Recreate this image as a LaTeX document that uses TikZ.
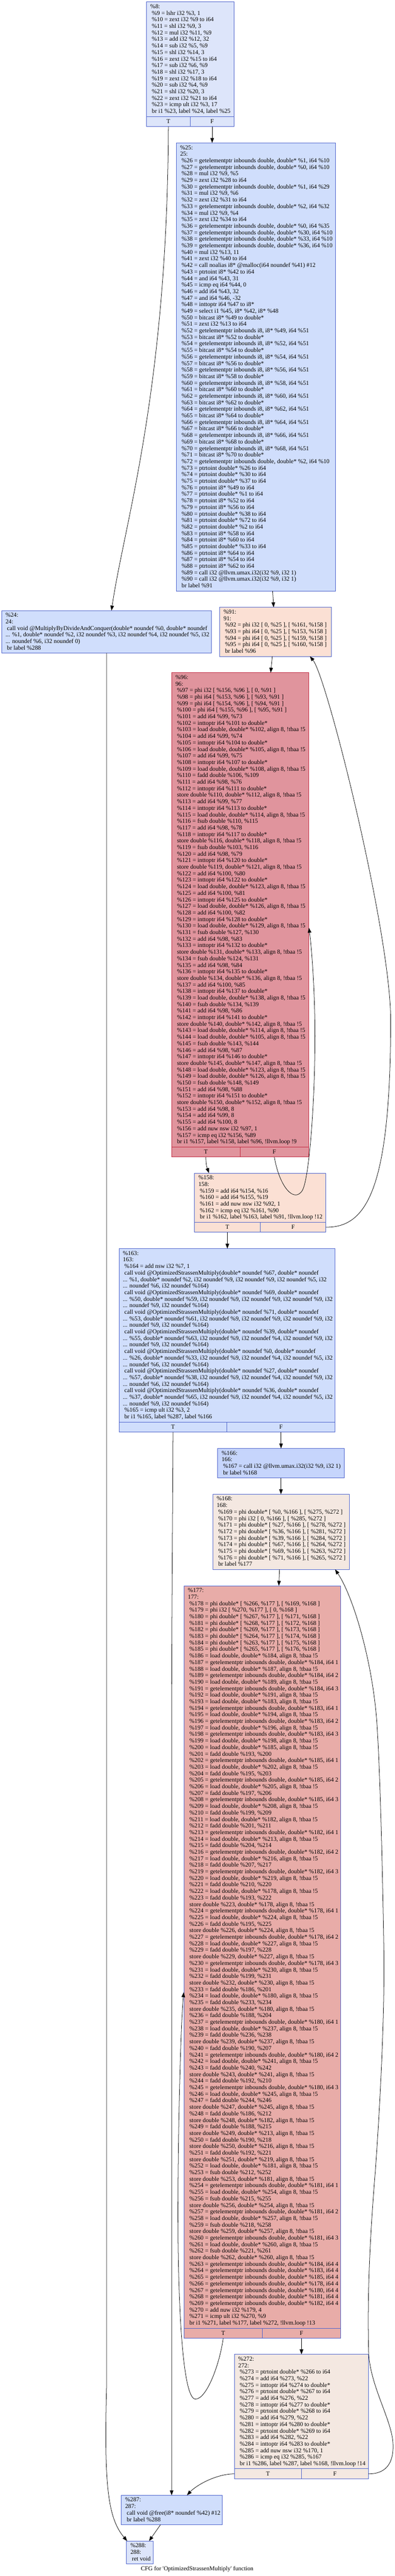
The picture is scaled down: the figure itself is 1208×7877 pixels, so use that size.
\documentclass[tikz,border=0pt]{standalone}
\usepackage{fontspec}
\newfontfamily\gv{Liberation Serif}
\usetikzlibrary{calc,arrows.meta}
\definecolor{bblue}{HTML}{4D62CC}
\definecolor{bred}{HTML}{C0283F}
\definecolor{fA}{HTML}{DDE5FA}
\definecolor{fB}{HTML}{D0DEFC}
\definecolor{fC}{HTML}{C6D5FC}
\definecolor{fP}{HTML}{FBE0D4}
\definecolor{fL}{HTML}{F4E8E1}
\definecolor{fR}{HTML}{E0949D}
\definecolor{fS}{HTML}{E8ACA8}
\newcommand\gvs{\hspace*{0.25em}}
\tikzset{
  cfgbox/.style={draw=bblue, line width=0.6pt, rectangle, inner sep=0pt, outer sep=0pt, anchor=north west, font=\gv\fontsize{9.25}{10}\selectfont},
  txt/.style={anchor=north west, inner sep=0pt, outer sep=0pt, font=\gv\fontsize{9.25}{10}\selectfont},
  edge/.style={draw=black, line width=0.6pt, -{Triangle[length=7.5pt,width=5.5pt]}}
}
\newcommand\blk[7]{%
  \node[cfgbox,#6,minimum width=#4*0.5pt,minimum height=#5*0.5pt] (#1) at (#2,#3) {};
  \node[txt] (#1t) at ($(#1.north west)+(12,6)$) {\begin{tabular}{@{}l@{}}#7\end{tabular}};}
\newcommand\tfrow[3]{%
  \node[cfgbox,#3,minimum width=#2*0.5pt,minimum height=31*0.5pt] (#1T) at (#1.south west) {T};
  \node[cfgbox,#3,minimum width=#2*0.5pt,minimum height=31*0.5pt] (#1F) at (#1T.north east) {F};}
\begin{document}
\begin{tikzpicture}[x=0.5pt,y=-0.5pt]
\useasboundingbox (0,0) rectangle (1208,7877);
\fill[white] (0,0) rectangle (1208,7877);

% ---------- %8
\blk{n8}{448}{6}{268}{350}{fill=fA}{\%8:\\
\gvs\%9 = lshr i32 \%3, 1\\
\gvs\%10 = zext i32 \%9 to i64\\
\gvs\%11 = shl i32 \%9, 3\\
\gvs\%12 = mul i32 \%11, \%9\\
\gvs\%13 = add i32 \%12, 32\\
\gvs\%14 = sub i32 \%5, \%9\\
\gvs\%15 = shl i32 \%14, 3\\
\gvs\%16 = zext i32 \%15 to i64\\
\gvs\%17 = sub i32 \%6, \%9\\
\gvs\%18 = shl i32 \%17, 3\\
\gvs\%19 = zext i32 \%18 to i64\\
\gvs\%20 = sub i32 \%4, \%9\\
\gvs\%21 = shl i32 \%20, 3\\
\gvs\%22 = zext i32 \%21 to i64\\
\gvs\%23 = icmp ult i32 \%3, 17\\
\gvs br i1 \%23, label \%24, label \%25}
\tfrow{n8}{134}{fill=fA}

% ---------- %25
\blk{n25}{539}{437}{487}{1370}{fill=fB}{\%25:\\
25:\\
\gvs\%26 = getelementptr inbounds double, double* \%1, i64 \%10\\
\gvs\%27 = getelementptr inbounds double, double* \%0, i64 \%10\\
\gvs\%28 = mul i32 \%9, \%5\\
\gvs\%29 = zext i32 \%28 to i64\\
\gvs\%30 = getelementptr inbounds double, double* \%1, i64 \%29\\
\gvs\%31 = mul i32 \%9, \%6\\
\gvs\%32 = zext i32 \%31 to i64\\
\gvs\%33 = getelementptr inbounds double, double* \%2, i64 \%32\\
\gvs\%34 = mul i32 \%9, \%4\\
\gvs\%35 = zext i32 \%34 to i64\\
\gvs\%36 = getelementptr inbounds double, double* \%0, i64 \%35\\
\gvs\%37 = getelementptr inbounds double, double* \%30, i64 \%10\\
\gvs\%38 = getelementptr inbounds double, double* \%33, i64 \%10\\
\gvs\%39 = getelementptr inbounds double, double* \%36, i64 \%10\\
\gvs\%40 = mul i32 \%13, 11\\
\gvs\%41 = zext i32 \%40 to i64\\
\gvs\%42 = call noalias i8* @malloc(i64 noundef \%41) \#12\\
\gvs\%43 = ptrtoint i8* \%42 to i64\\
\gvs\%44 = and i64 \%43, 31\\
\gvs\%45 = icmp eq i64 \%44, 0\\
\gvs\%46 = add i64 \%43, 32\\
\gvs\%47 = and i64 \%46, -32\\
\gvs\%48 = inttoptr i64 \%47 to i8*\\
\gvs\%49 = select i1 \%45, i8* \%42, i8* \%48\\
\gvs\%50 = bitcast i8* \%49 to double*\\
\gvs\%51 = zext i32 \%13 to i64\\
\gvs\%52 = getelementptr inbounds i8, i8* \%49, i64 \%51\\
\gvs\%53 = bitcast i8* \%52 to double*\\
\gvs\%54 = getelementptr inbounds i8, i8* \%52, i64 \%51\\
\gvs\%55 = bitcast i8* \%54 to double*\\
\gvs\%56 = getelementptr inbounds i8, i8* \%54, i64 \%51\\
\gvs\%57 = bitcast i8* \%56 to double*\\
\gvs\%58 = getelementptr inbounds i8, i8* \%56, i64 \%51\\
\gvs\%59 = bitcast i8* \%58 to double*\\
\gvs\%60 = getelementptr inbounds i8, i8* \%58, i64 \%51\\
\gvs\%61 = bitcast i8* \%60 to double*\\
\gvs\%62 = getelementptr inbounds i8, i8* \%60, i64 \%51\\
\gvs\%63 = bitcast i8* \%62 to double*\\
\gvs\%64 = getelementptr inbounds i8, i8* \%62, i64 \%51\\
\gvs\%65 = bitcast i8* \%64 to double*\\
\gvs\%66 = getelementptr inbounds i8, i8* \%64, i64 \%51\\
\gvs\%67 = bitcast i8* \%66 to double*\\
\gvs\%68 = getelementptr inbounds i8, i8* \%66, i64 \%51\\
\gvs\%69 = bitcast i8* \%68 to double*\\
\gvs\%70 = getelementptr inbounds i8, i8* \%68, i64 \%51\\
\gvs\%71 = bitcast i8* \%70 to double*\\
\gvs\%72 = getelementptr inbounds double, double* \%2, i64 \%10\\
\gvs\%73 = ptrtoint double* \%26 to i64\\
\gvs\%74 = ptrtoint double* \%30 to i64\\
\gvs\%75 = ptrtoint double* \%37 to i64\\
\gvs\%76 = ptrtoint i8* \%49 to i64\\
\gvs\%77 = ptrtoint double* \%1 to i64\\
\gvs\%78 = ptrtoint i8* \%52 to i64\\
\gvs\%79 = ptrtoint i8* \%56 to i64\\
\gvs\%80 = ptrtoint double* \%38 to i64\\
\gvs\%81 = ptrtoint double* \%72 to i64\\
\gvs\%82 = ptrtoint double* \%2 to i64\\
\gvs\%83 = ptrtoint i8* \%58 to i64\\
\gvs\%84 = ptrtoint i8* \%60 to i64\\
\gvs\%85 = ptrtoint double* \%33 to i64\\
\gvs\%86 = ptrtoint i8* \%64 to i64\\
\gvs\%87 = ptrtoint i8* \%54 to i64\\
\gvs\%88 = ptrtoint i8* \%62 to i64\\
\gvs\%89 = call i32 @llvm.umax.i32(i32 \%9, i32 1)\\
\gvs\%90 = call i32 @llvm.umax.i32(i32 \%9, i32 1)\\
\gvs br label \%91}

% ---------- %24
\blk{n24}{5}{1867}{642}{130}{fill=fB}{\%24:\\
24:\\
\gvs call void @MultiplyByDivideAndConquer(double* noundef \%0, double* noundef\\
... \%1, double* noundef \%2, i32 noundef \%3, i32 noundef \%4, i32 noundef \%5, i32\\
... noundef \%6, i32 noundef 0)\\
\gvs br label \%288}

% ---------- %91
\blk{n91}{672}{1857}{341}{150}{fill=fP}{\%91:\\
91:\\
\gvs\%92 = phi i32 [ 0, \%25 ], [ \%161, \%158 ]\\
\gvs\%93 = phi i64 [ 0, \%25 ], [ \%153, \%158 ]\\
\gvs\%94 = phi i64 [ 0, \%25 ], [ \%159, \%158 ]\\
\gvs\%95 = phi i64 [ 0, \%25 ], [ \%160, \%158 ]\\
\gvs br label \%96}

% ---------- %96
\blk{n96}{525}{2057}{419}{1450}{fill=fR,draw=bred}{\%96:\\
96:\\
\gvs\%97 = phi i32 [ \%156, \%96 ], [ 0, \%91 ]\\
\gvs\%98 = phi i64 [ \%153, \%96 ], [ \%93, \%91 ]\\
\gvs\%99 = phi i64 [ \%154, \%96 ], [ \%94, \%91 ]\\
\gvs\%100 = phi i64 [ \%155, \%96 ], [ \%95, \%91 ]\\
\gvs\%101 = add i64 \%99, \%73\\
\gvs\%102 = inttoptr i64 \%101 to double*\\
\gvs\%103 = load double, double* \%102, align 8, !tbaa !5\\
\gvs\%104 = add i64 \%99, \%74\\
\gvs\%105 = inttoptr i64 \%104 to double*\\
\gvs\%106 = load double, double* \%105, align 8, !tbaa !5\\
\gvs\%107 = add i64 \%99, \%75\\
\gvs\%108 = inttoptr i64 \%107 to double*\\
\gvs\%109 = load double, double* \%108, align 8, !tbaa !5\\
\gvs\%110 = fadd double \%106, \%109\\
\gvs\%111 = add i64 \%98, \%76\\
\gvs\%112 = inttoptr i64 \%111 to double*\\
\gvs store double \%110, double* \%112, align 8, !tbaa !5\\
\gvs\%113 = add i64 \%99, \%77\\
\gvs\%114 = inttoptr i64 \%113 to double*\\
\gvs\%115 = load double, double* \%114, align 8, !tbaa !5\\
\gvs\%116 = fsub double \%110, \%115\\
\gvs\%117 = add i64 \%98, \%78\\
\gvs\%118 = inttoptr i64 \%117 to double*\\
\gvs store double \%116, double* \%118, align 8, !tbaa !5\\
\gvs\%119 = fsub double \%103, \%116\\
\gvs\%120 = add i64 \%98, \%79\\
\gvs\%121 = inttoptr i64 \%120 to double*\\
\gvs store double \%119, double* \%121, align 8, !tbaa !5\\
\gvs\%122 = add i64 \%100, \%80\\
\gvs\%123 = inttoptr i64 \%122 to double*\\
\gvs\%124 = load double, double* \%123, align 8, !tbaa !5\\
\gvs\%125 = add i64 \%100, \%81\\
\gvs\%126 = inttoptr i64 \%125 to double*\\
\gvs\%127 = load double, double* \%126, align 8, !tbaa !5\\
\gvs\%128 = add i64 \%100, \%82\\
\gvs\%129 = inttoptr i64 \%128 to double*\\
\gvs\%130 = load double, double* \%129, align 8, !tbaa !5\\
\gvs\%131 = fsub double \%127, \%130\\
\gvs\%132 = add i64 \%98, \%83\\
\gvs\%133 = inttoptr i64 \%132 to double*\\
\gvs store double \%131, double* \%133, align 8, !tbaa !5\\
\gvs\%134 = fsub double \%124, \%131\\
\gvs\%135 = add i64 \%98, \%84\\
\gvs\%136 = inttoptr i64 \%135 to double*\\
\gvs store double \%134, double* \%136, align 8, !tbaa !5\\
\gvs\%137 = add i64 \%100, \%85\\
\gvs\%138 = inttoptr i64 \%137 to double*\\
\gvs\%139 = load double, double* \%138, align 8, !tbaa !5\\
\gvs\%140 = fsub double \%134, \%139\\
\gvs\%141 = add i64 \%98, \%86\\
\gvs\%142 = inttoptr i64 \%141 to double*\\
\gvs store double \%140, double* \%142, align 8, !tbaa !5\\
\gvs\%143 = load double, double* \%114, align 8, !tbaa !5\\
\gvs\%144 = load double, double* \%105, align 8, !tbaa !5\\
\gvs\%145 = fsub double \%143, \%144\\
\gvs\%146 = add i64 \%98, \%87\\
\gvs\%147 = inttoptr i64 \%146 to double*\\
\gvs store double \%145, double* \%147, align 8, !tbaa !5\\
\gvs\%148 = load double, double* \%123, align 8, !tbaa !5\\
\gvs\%149 = load double, double* \%126, align 8, !tbaa !5\\
\gvs\%150 = fsub double \%148, \%149\\
\gvs\%151 = add i64 \%98, \%88\\
\gvs\%152 = inttoptr i64 \%151 to double*\\
\gvs store double \%150, double* \%152, align 8, !tbaa !5\\
\gvs\%153 = add i64 \%98, 8\\
\gvs\%154 = add i64 \%99, 8\\
\gvs\%155 = add i64 \%100, 8\\
\gvs\%156 = add nuw nsw i32 \%97, 1\\
\gvs\%157 = icmp eq i32 \%156, \%89\\
\gvs br i1 \%157, label \%158, label \%96, !llvm.loop !9}
\tfrow{n96}{209.5}{fill=fR,draw=bred}

% ---------- %158
\blk{n158}{595}{3587}{402}{150}{fill=fP}{\%158:\\
158:\\
\gvs\%159 = add i64 \%154, \%16\\
\gvs\%160 = add i64 \%155, \%19\\
\gvs\%161 = add nuw nsw i32 \%92, 1\\
\gvs\%162 = icmp eq i32 \%161, \%90\\
\gvs br i1 \%162, label \%163, label \%91, !llvm.loop !12}
\tfrow{n158}{201}{fill=fP}

% ---------- %163
\blk{n163}{364}{3818}{661}{530}{fill=fB}{\%163:\\
163:\\
\gvs\%164 = add nsw i32 \%7, 1\\
\gvs call void @OptimizedStrassenMultiply(double* noundef \%67, double* noundef\\
... \%1, double* noundef \%2, i32 noundef \%9, i32 noundef \%9, i32 noundef \%5, i32\\
... noundef \%6, i32 noundef \%164)\\
\gvs call void @OptimizedStrassenMultiply(double* noundef \%69, double* noundef\\
... \%50, double* noundef \%59, i32 noundef \%9, i32 noundef \%9, i32 noundef \%9, i32\\
... noundef \%9, i32 noundef \%164)\\
\gvs call void @OptimizedStrassenMultiply(double* noundef \%71, double* noundef\\
... \%53, double* noundef \%61, i32 noundef \%9, i32 noundef \%9, i32 noundef \%9, i32\\
... noundef \%9, i32 noundef \%164)\\
\gvs call void @OptimizedStrassenMultiply(double* noundef \%39, double* noundef\\
... \%55, double* noundef \%63, i32 noundef \%9, i32 noundef \%4, i32 noundef \%9, i32\\
... noundef \%9, i32 noundef \%164)\\
\gvs call void @OptimizedStrassenMultiply(double* noundef \%0, double* noundef\\
... \%26, double* noundef \%33, i32 noundef \%9, i32 noundef \%4, i32 noundef \%5, i32\\
... noundef \%6, i32 noundef \%164)\\
\gvs call void @OptimizedStrassenMultiply(double* noundef \%27, double* noundef\\
... \%57, double* noundef \%38, i32 noundef \%9, i32 noundef \%4, i32 noundef \%9, i32\\
... noundef \%6, i32 noundef \%164)\\
\gvs call void @OptimizedStrassenMultiply(double* noundef \%36, double* noundef\\
... \%37, double* noundef \%65, i32 noundef \%9, i32 noundef \%4, i32 noundef \%5, i32\\
... noundef \%9, i32 noundef \%164)\\
\gvs\%165 = icmp ult i32 \%3, 2\\
\gvs br i1 \%165, label \%287, label \%166}
\tfrow{n163}{330.5}{fill=fB}

% ---------- %166
\blk{n166}{666}{4429}{387}{90}{fill=fC}{\%166:\\
166:\\
\gvs\%167 = call i32 @llvm.umax.i32(i32 \%9, i32 1)\\
\gvs br label \%168}

% ---------- %168
\blk{n168}{651}{4569}{418}{230}{fill=fL}{\%168:\\
168:\\
\gvs\%169 = phi double* [ \%0, \%166 ], [ \%275, \%272 ]\\
\gvs\%170 = phi i32 [ 0, \%166 ], [ \%285, \%272 ]\\
\gvs\%171 = phi double* [ \%27, \%166 ], [ \%278, \%272 ]\\
\gvs\%172 = phi double* [ \%36, \%166 ], [ \%281, \%272 ]\\
\gvs\%173 = phi double* [ \%39, \%166 ], [ \%284, \%272 ]\\
\gvs\%174 = phi double* [ \%67, \%166 ], [ \%264, \%272 ]\\
\gvs\%175 = phi double* [ \%69, \%166 ], [ \%263, \%272 ]\\
\gvs\%176 = phi double* [ \%71, \%166 ], [ \%265, \%272 ]\\
\gvs br label \%177}

% ---------- %177
\blk{n177}{563}{4849}{479}{2270}{fill=fS}{\%177:\\
177:\\
\gvs\%178 = phi double* [ \%266, \%177 ], [ \%169, \%168 ]\\
\gvs\%179 = phi i32 [ \%270, \%177 ], [ 0, \%168 ]\\
\gvs\%180 = phi double* [ \%267, \%177 ], [ \%171, \%168 ]\\
\gvs\%181 = phi double* [ \%268, \%177 ], [ \%172, \%168 ]\\
\gvs\%182 = phi double* [ \%269, \%177 ], [ \%173, \%168 ]\\
\gvs\%183 = phi double* [ \%264, \%177 ], [ \%174, \%168 ]\\
\gvs\%184 = phi double* [ \%263, \%177 ], [ \%175, \%168 ]\\
\gvs\%185 = phi double* [ \%265, \%177 ], [ \%176, \%168 ]\\
\gvs\%186 = load double, double* \%184, align 8, !tbaa !5\\
\gvs\%187 = getelementptr inbounds double, double* \%184, i64 1\\
\gvs\%188 = load double, double* \%187, align 8, !tbaa !5\\
\gvs\%189 = getelementptr inbounds double, double* \%184, i64 2\\
\gvs\%190 = load double, double* \%189, align 8, !tbaa !5\\
\gvs\%191 = getelementptr inbounds double, double* \%184, i64 3\\
\gvs\%192 = load double, double* \%191, align 8, !tbaa !5\\
\gvs\%193 = load double, double* \%183, align 8, !tbaa !5\\
\gvs\%194 = getelementptr inbounds double, double* \%183, i64 1\\
\gvs\%195 = load double, double* \%194, align 8, !tbaa !5\\
\gvs\%196 = getelementptr inbounds double, double* \%183, i64 2\\
\gvs\%197 = load double, double* \%196, align 8, !tbaa !5\\
\gvs\%198 = getelementptr inbounds double, double* \%183, i64 3\\
\gvs\%199 = load double, double* \%198, align 8, !tbaa !5\\
\gvs\%200 = load double, double* \%185, align 8, !tbaa !5\\
\gvs\%201 = fadd double \%193, \%200\\
\gvs\%202 = getelementptr inbounds double, double* \%185, i64 1\\
\gvs\%203 = load double, double* \%202, align 8, !tbaa !5\\
\gvs\%204 = fadd double \%195, \%203\\
\gvs\%205 = getelementptr inbounds double, double* \%185, i64 2\\
\gvs\%206 = load double, double* \%205, align 8, !tbaa !5\\
\gvs\%207 = fadd double \%197, \%206\\
\gvs\%208 = getelementptr inbounds double, double* \%185, i64 3\\
\gvs\%209 = load double, double* \%208, align 8, !tbaa !5\\
\gvs\%210 = fadd double \%199, \%209\\
\gvs\%211 = load double, double* \%182, align 8, !tbaa !5\\
\gvs\%212 = fadd double \%201, \%211\\
\gvs\%213 = getelementptr inbounds double, double* \%182, i64 1\\
\gvs\%214 = load double, double* \%213, align 8, !tbaa !5\\
\gvs\%215 = fadd double \%204, \%214\\
\gvs\%216 = getelementptr inbounds double, double* \%182, i64 2\\
\gvs\%217 = load double, double* \%216, align 8, !tbaa !5\\
\gvs\%218 = fadd double \%207, \%217\\
\gvs\%219 = getelementptr inbounds double, double* \%182, i64 3\\
\gvs\%220 = load double, double* \%219, align 8, !tbaa !5\\
\gvs\%221 = fadd double \%210, \%220\\
\gvs\%222 = load double, double* \%178, align 8, !tbaa !5\\
\gvs\%223 = fadd double \%193, \%222\\
\gvs store double \%223, double* \%178, align 8, !tbaa !5\\
\gvs\%224 = getelementptr inbounds double, double* \%178, i64 1\\
\gvs\%225 = load double, double* \%224, align 8, !tbaa !5\\
\gvs\%226 = fadd double \%195, \%225\\
\gvs store double \%226, double* \%224, align 8, !tbaa !5\\
\gvs\%227 = getelementptr inbounds double, double* \%178, i64 2\\
\gvs\%228 = load double, double* \%227, align 8, !tbaa !5\\
\gvs\%229 = fadd double \%197, \%228\\
\gvs store double \%229, double* \%227, align 8, !tbaa !5\\
\gvs\%230 = getelementptr inbounds double, double* \%178, i64 3\\
\gvs\%231 = load double, double* \%230, align 8, !tbaa !5\\
\gvs\%232 = fadd double \%199, \%231\\
\gvs store double \%232, double* \%230, align 8, !tbaa !5\\
\gvs\%233 = fadd double \%186, \%201\\
\gvs\%234 = load double, double* \%180, align 8, !tbaa !5\\
\gvs\%235 = fadd double \%233, \%234\\
\gvs store double \%235, double* \%180, align 8, !tbaa !5\\
\gvs\%236 = fadd double \%188, \%204\\
\gvs\%237 = getelementptr inbounds double, double* \%180, i64 1\\
\gvs\%238 = load double, double* \%237, align 8, !tbaa !5\\
\gvs\%239 = fadd double \%236, \%238\\
\gvs store double \%239, double* \%237, align 8, !tbaa !5\\
\gvs\%240 = fadd double \%190, \%207\\
\gvs\%241 = getelementptr inbounds double, double* \%180, i64 2\\
\gvs\%242 = load double, double* \%241, align 8, !tbaa !5\\
\gvs\%243 = fadd double \%240, \%242\\
\gvs store double \%243, double* \%241, align 8, !tbaa !5\\
\gvs\%244 = fadd double \%192, \%210\\
\gvs\%245 = getelementptr inbounds double, double* \%180, i64 3\\
\gvs\%246 = load double, double* \%245, align 8, !tbaa !5\\
\gvs\%247 = fadd double \%244, \%246\\
\gvs store double \%247, double* \%245, align 8, !tbaa !5\\
\gvs\%248 = fadd double \%186, \%212\\
\gvs store double \%248, double* \%182, align 8, !tbaa !5\\
\gvs\%249 = fadd double \%188, \%215\\
\gvs store double \%249, double* \%213, align 8, !tbaa !5\\
\gvs\%250 = fadd double \%190, \%218\\
\gvs store double \%250, double* \%216, align 8, !tbaa !5\\
\gvs\%251 = fadd double \%192, \%221\\
\gvs store double \%251, double* \%219, align 8, !tbaa !5\\
\gvs\%252 = load double, double* \%181, align 8, !tbaa !5\\
\gvs\%253 = fsub double \%212, \%252\\
\gvs store double \%253, double* \%181, align 8, !tbaa !5\\
\gvs\%254 = getelementptr inbounds double, double* \%181, i64 1\\
\gvs\%255 = load double, double* \%254, align 8, !tbaa !5\\
\gvs\%256 = fsub double \%215, \%255\\
\gvs store double \%256, double* \%254, align 8, !tbaa !5\\
\gvs\%257 = getelementptr inbounds double, double* \%181, i64 2\\
\gvs\%258 = load double, double* \%257, align 8, !tbaa !5\\
\gvs\%259 = fsub double \%218, \%258\\
\gvs store double \%259, double* \%257, align 8, !tbaa !5\\
\gvs\%260 = getelementptr inbounds double, double* \%181, i64 3\\
\gvs\%261 = load double, double* \%260, align 8, !tbaa !5\\
\gvs\%262 = fsub double \%221, \%261\\
\gvs store double \%262, double* \%260, align 8, !tbaa !5\\
\gvs\%263 = getelementptr inbounds double, double* \%184, i64 4\\
\gvs\%264 = getelementptr inbounds double, double* \%183, i64 4\\
\gvs\%265 = getelementptr inbounds double, double* \%185, i64 4\\
\gvs\%266 = getelementptr inbounds double, double* \%178, i64 4\\
\gvs\%267 = getelementptr inbounds double, double* \%180, i64 4\\
\gvs\%268 = getelementptr inbounds double, double* \%181, i64 4\\
\gvs\%269 = getelementptr inbounds double, double* \%182, i64 4\\
\gvs\%270 = add nuw i32 \%179, 4\\
\gvs\%271 = icmp ult i32 \%270, \%9\\
\gvs br i1 \%271, label \%177, label \%272, !llvm.loop !13}
\tfrow{n177}{239.5}{fill=fS}

% ---------- %272
\blk{n272}{717}{7199}{410}{350}{fill=fL}{\%272:\\
272:\\
\gvs\%273 = ptrtoint double* \%266 to i64\\
\gvs\%274 = add i64 \%273, \%22\\
\gvs\%275 = inttoptr i64 \%274 to double*\\
\gvs\%276 = ptrtoint double* \%267 to i64\\
\gvs\%277 = add i64 \%276, \%22\\
\gvs\%278 = inttoptr i64 \%277 to double*\\
\gvs\%279 = ptrtoint double* \%268 to i64\\
\gvs\%280 = add i64 \%279, \%22\\
\gvs\%281 = inttoptr i64 \%280 to double*\\
\gvs\%282 = ptrtoint double* \%269 to i64\\
\gvs\%283 = add i64 \%282, \%22\\
\gvs\%284 = inttoptr i64 \%283 to double*\\
\gvs\%285 = add nuw nsw i32 \%170, 1\\
\gvs\%286 = icmp eq i32 \%285, \%167\\
\gvs br i1 \%286, label \%287, label \%168, !llvm.loop !14}
\tfrow{n272}{205}{fill=fL}

% ---------- %287
\blk{n287}{371}{7630}{309}{90}{fill=fB}{\%287:\\
287:\\
\gvs call void @free(i8* noundef \%42) \#12\\
\gvs br label \%288}

% ---------- %288
\blk{n288}{387}{7770}{81}{70}{fill=fA}{\%288:\\
288:\\
\gvs ret void}

\node[txt,anchor=base] (cap) at (603,7861) {CFG for 'OptimizedStrassenMultiply' function};

% ---------- edges
\draw[edge] (n8T.south) .. controls (512,1200) and (380,1600) .. ($(n24.north west)+(336,0)$);
\draw[edge] (n8F.south) -- (n8F.south |- n25.north);
\draw[edge] ($(n25.south west)+(295,0)$) -- ($(n91.north west)+(165,0)$);
\draw[edge] (n24.south) -- (326,7300) .. controls (318,7600) and (330,7700) .. ($(n288.north west)+(2,0)$);
\draw[edge] ($(n91.south west)+(161,0)$) -- ($(n96.north west)+(303,0)$);
\draw[edge] (n96F.south) .. controls (855,3630) and (900,3680) .. (925,3640) .. controls (948,3600) and (967,3320) .. (963,3110) .. controls (960,2980) and (952,2890) .. ($(n96.north east)+(1,780)$);
\draw[edge] (n96T.south) .. controls (630,3565) and (634,3572) .. ($(n158.north west)+(44,0)$);
\draw[edge] (n158T.south) -- (n158T.south |- n163.north);
\draw[edge] (n158F.east) .. controls (1120,3754) and (1195,3640) .. (1195,3119) .. controls (1195,2850) and (1000,2070) .. ($(n91.south west)+(276,0)$);
\draw[edge] (n163F.south) -- (n163F.south |- n166.north);
\draw[edge] (n166.south) -- (n166.south |- n168.north);
\draw[edge] ($(n168.south west)+(204,0)$) -- ($(n177.north west)+(290,0)$);
\draw[edge] (n163T.south) .. controls (528,4700) and (525,4950) .. (525,5300) -- ($(n287.north west)+(154,0)$);
\draw[edge] (n177T.south) .. controls (672,7230) and (632,7336) .. (598,7336) .. controls (562,7336) and (548,7100) .. (545,6870) .. controls (542,6600) and (552,6200) .. ($(n177.north west)+(-1,1243)$);
\draw[edge] (n177F.south) -- (n177F.south |- n272.north);
\draw[edge] (n272T.west) .. controls (660,7565) and (600,7600) .. ($(n287.north west)+(201,0)$);
\draw[edge] (n272F.east) .. controls (1190,7565) and (1205,7520) .. (1202,7470) .. controls (1198,7400) and (1135,7300) .. (1128,7200) .. controls (1122,7000) and (1135,6800) .. (1148,6640) .. controls (1162,6450) and (1178,6150) .. (1174,5950) .. controls (1170,5700) and (1162,5400) .. (1153,5270) .. controls (1140,5080) and (1080,4880) .. ($(n168.south west)+(374,0)$);
\draw[edge] ($(n287.south west)+(120,0)$) -- ($(n288.north west)+(69,0)$);
\end{tikzpicture}
\end{document}
